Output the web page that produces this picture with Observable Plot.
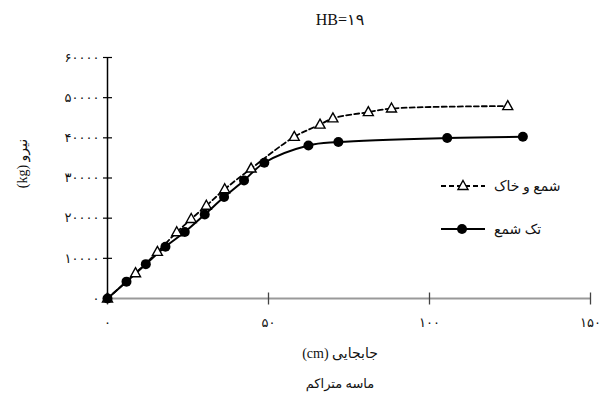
<!DOCTYPE html>
<html>
<head>
<meta charset="utf-8">
<script src="https://cdn.jsdelivr.net/npm/d3@7"></script>
<script src="https://cdn.jsdelivr.net/npm/@observablehq/plot@0.6"></script>
<style>
  body { margin: 0; background: #fff; }
  #wrap { position: relative; width: 605px; height: 401px; font-family: "Liberation Serif", "DejaVu Sans", serif; color: #111; }
  #title { position: absolute; left: 0; top: 10px; width: 680px; text-align: center; font-size: 16px; }
  #chart { position: absolute; left: 0; top: 40px; }
  #xlabel { position: absolute; left: 240px; width: 200px; top: 345px; text-align: center; font-size: 14px; }
  #caption { position: absolute; left: 240px; width: 200px; top: 376px; text-align: center; font-size: 13px; }
  #ylabel { position: absolute; left: -38px; top: 155px; width: 120px; text-align: center; font-size: 14px; transform: rotate(-90deg); }
  .leg { position: absolute; display: flex; align-items: center; font-size: 14px; }
  .leg span { margin-left: 8px; }
</style>
</head>
<body>
<div id="wrap">
  <div id="title">HB=۱۹</div>
  <div id="chart"></div>
  <div id="ylabel" dir="rtl">نیرو (kg)</div>
  <div id="xlabel" dir="rtl">جابجایی (cm)</div>
  <div id="caption" dir="rtl">ماسه متراکم</div>
  <div class="leg" style="left:440px; top:177px;">
    <svg width="46" height="18"><line x1="1" y1="9" x2="45" y2="9" stroke="#000" stroke-width="1.8" stroke-dasharray="5,3"/><path d="M23,3.5L28,12.5L18,12.5Z" fill="#fff" stroke="#000" stroke-width="1.4"/></svg>
    <span dir="rtl">شمع و خاک</span>
  </div>
  <div class="leg" style="left:440px; top:220px;">
    <svg width="46" height="18"><line x1="1" y1="9" x2="45" y2="9" stroke="#000" stroke-width="2"/><circle cx="22" cy="9" r="5" fill="#000"/></svg>
    <span dir="rtl">تک شمع</span>
  </div>
</div>
<script>
// Displacement (cm) and load (kg) for the two pile configurations
const pileSoilX = [0, 8.7, 15.5, 21.5, 26, 30.7, 36.4, 44.6, 58, 66, 70, 81, 88.2, 124.3];
const pileSoilY = [0, 6300, 11600, 16500, 19800, 23100, 27200, 32350, 40250, 43300, 44850, 46400, 47300, 47900];
const singlePileX = [0, 5.9, 11.9, 18, 24, 30.2, 36.2, 42.4, 48.7, 62.4, 71.7, 105.5, 129];
const singlePileY = [0, 4200, 8550, 12900, 16550, 20900, 25250, 29400, 33800, 38100, 38950, 39950, 40250];

const xTicks = [0, 50, 100, 150];
const yTicks = [0, 10000, 20000, 30000, 40000, 50000, 60000];

const faDigits = "۰۱۲۳۴۵۶۷۸۹";
const fa = n => String(n).replace(/\d/g, d => faDigits[+d]);

const pileSoil = pileSoilX.map((x, i) => ({x, y: pileSoilY[i]}));
const singlePile = singlePileX.map((x, i) => ({x, y: singlePileY[i]}));

// tick glyphs that straddle the axis lines
const hTick = {draw(ctx) { ctx.moveTo(-4.5, 0); ctx.lineTo(4.5, 0); }};
const vTick = {draw(ctx) { ctx.moveTo(0, -6); ctx.lineTo(0, 6); }};
const triangle = {draw(ctx) { ctx.moveTo(0, -5.5); ctx.lineTo(5, 3.5); ctx.lineTo(-5, 3.5); ctx.closePath(); }};

const chart = Plot.plot({
  width: 605,
  height: 300,
  marginLeft: 107,
  marginRight: 15,
  marginTop: 17,
  marginBottom: 42,
  x: {domain: [0, 150]},
  y: {domain: [0, 60000]},
  style: {fontFamily: '"Liberation Serif", "DejaVu Sans", serif', fontSize: "12px", color: "#111", background: "#fff"},
  marks: [
    Plot.ruleY([0], {x1: 0, x2: 150, stroke: "#999", strokeWidth: 2}),
    Plot.dot(xTicks, {x: d => d, y: 0, symbol: vTick, stroke: "#444", fill: "none", strokeWidth: 1.3}),
    Plot.ruleX([0], {y1: 0, y2: 60000, stroke: "#000", strokeWidth: 1.5}),
    Plot.dot(yTicks, {x: 0, y: d => d, symbol: hTick, stroke: "#000", fill: "none", strokeWidth: 1.2}),
    Plot.axisY({ticks: yTicks, tickSize: 0, tickPadding: 8, tickFormat: fa, label: null, fontSize: 13}),
    Plot.axisX({ticks: xTicks, tickSize: 0, tickPadding: 19, tickFormat: fa, label: null, fontSize: 13}),
    Plot.line(pileSoil, {x: "x", y: "y", curve: "catmull-rom", stroke: "#000", strokeWidth: 1.8, strokeDasharray: "5,3"}),
    Plot.line(singlePile, {x: "x", y: "y", curve: "catmull-rom", stroke: "#000", strokeWidth: 2}),
    Plot.dot(pileSoil, {x: "x", y: "y", symbol: triangle, fill: "#fff", stroke: "#000", strokeWidth: 1.4}),
    Plot.dot(singlePile, {x: "x", y: "y", r: 5, fill: "#000", stroke: "none"})
  ]
});
document.getElementById("chart").appendChild(chart);
</script>
</body>
</html>
